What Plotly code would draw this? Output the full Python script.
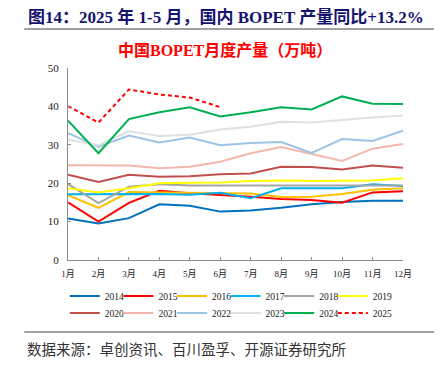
import plotly.graph_objects as go

months = ["1月", "2月", "3月", "4月", "5月", "6月", "7月", "8月", "9月", "10月", "11月", "12月"]

y2014 = [10.8, 9.5, 10.9, 14.5, 14.1, 12.6, 12.9, 13.6, 14.5, 15.1, 15.4, 15.4]
y2015 = [15.0, 10.0, 14.9, 18.0, 17.4, 17.0, 16.5, 15.9, 15.6, 14.9, 17.6, 17.9]
y2016 = [16.9, 13.6, 17.7, 17.6, 17.4, 17.4, 17.3, 16.4, 16.5, 17.2, 18.3, 18.7]
y2017 = [17.1, 17.1, 17.1, 17.2, 17.0, 17.5, 16.1, 18.7, 18.7, 18.7, 19.7, 19.3]
y2018 = [19.8, 14.8, 19.1, 19.7, 19.4, 19.4, 19.4, 19.4, 19.3, 19.4, 19.4, 19.4]
y2019 = [18.7, 17.6, 18.7, 20.0, 20.1, 20.2, 20.6, 20.7, 20.6, 20.6, 20.7, 21.3]
y2020 = [22.2, 20.3, 22.2, 21.7, 21.8, 22.3, 22.5, 24.3, 24.2, 23.6, 24.6, 24.0]
y2021 = [24.7, 24.6, 24.6, 23.9, 24.3, 25.6, 27.8, 29.4, 27.5, 25.8, 29.0, 30.2]
y2022 = [33.0, 29.5, 32.4, 30.6, 31.9, 29.9, 30.5, 30.7, 27.9, 31.5, 31.0, 33.7]
y2023 = [31.3, 29.9, 33.5, 32.3, 32.6, 34.0, 34.7, 36.0, 35.8, 36.5, 37.1, 37.6]
y2024 = [36.3, 27.8, 36.7, 38.5, 39.8, 37.4, 38.5, 39.8, 39.2, 42.6, 40.7, 40.6]
y2025 = [40.1, 35.8, 44.4, 43.1, 42.3, 39.8]

series = [
    ("2014", y2014, "#0070C0", "solid"),
    ("2015", y2015, "#FF0000", "solid"),
    ("2016", y2016, "#FFC000", "solid"),
    ("2017", y2017, "#00B0F0", "solid"),
    ("2018", y2018, "#A5A5A5", "solid"),
    ("2019", y2019, "#FFFF00", "solid"),
    ("2020", y2020, "#C0504D", "solid"),
    ("2021", y2021, "#F2B8AC", "solid"),
    ("2022", y2022, "#9DC3E6", "solid"),
    ("2023", y2023, "#E0E0E0", "solid"),
    ("2024", y2024, "#00B050", "solid"),
    ("2025", y2025, "#FF0000", "4px,3px"),
]

yticks = [0, 10, 20, 30, 40, 50]

SERIF = "Liberation Serif, Noto Sans CJK SC, serif"

# plot area in reference pixels
PL, PW, PB, PH = 67.7, 335.0, 260.0, 192.0

fig = go.Figure()
legend_layouts = {}
for i, (name, vals, color, dash) in enumerate(series):
    lid = "legend" if i == 0 else f"legend{i + 1}"
    fig.add_trace(go.Scatter(
        x=months[:len(vals)], y=vals, name=name, mode="lines",
        line=dict(color=color, width=2, dash=dash),
        legend=lid,
    ))
    col, row = i % 6, i // 6
    origin_px = 72 + 53.6 * col - 7.5
    center_px = 296 + 17 * row
    legend_layouts[lid] = dict(
        x=(origin_px - PL) / PW, xanchor="left",
        y=(PB - center_px) / PH, yanchor="middle",
        orientation="h", bgcolor="rgba(0,0,0,0)", borderwidth=0,
        font=dict(family=SERIF, size=9.5, color="#222"),
        itemwidth=30,
    )

# page body has an 8px margin, so the figure is drawn 8px smaller and offset
fig.update_layout(
    width=434, height=370,
    margin=dict(l=59.7, r=39.3, t=60, b=118),
    paper_bgcolor="white", plot_bgcolor="white",
    showlegend=True,
    xaxis=dict(
        type="category", categoryorder="array", categoryarray=months,
        range=[0, 11], showgrid=False, zeroline=False,
        showline=True, linecolor="#8c8c8c", linewidth=1,
        ticks="inside", ticklen=3, tickcolor="#8c8c8c",
        ticklabelstandoff=5,
        tickfont=dict(family=SERIF, size=9, color="#222"),
    ),
    yaxis=dict(
        range=[0, 50], tickvals=yticks, showgrid=False, zeroline=False,
        showline=True, linecolor="#8c8c8c", linewidth=1,
        ticks="inside", ticklen=3, tickcolor="#8c8c8c",
        ticklabelstandoff=6,
        tickfont=dict(family=SERIF, size=11, color="#222"),
    ),
    annotations=[
        dict(text="<b>图14：2025 年 1-5 月，国内 BOPET 产量同比+13.2%</b>",
             xref="paper", yref="paper", x=(26 - PL) / PW, y=(PB - 17) / PH,
             xanchor="left", yanchor="middle", showarrow=False,
             font=dict(family="Liberation Serif, Noto Sans CJK SC", size=17, color="#14146e")),
        dict(text="<b>中国BOPET月度产量（万吨）</b>",
             xref="paper", yref="paper", x=(225 - PL) / PW, y=(PB - 50) / PH,
             xanchor="center", yanchor="middle", showarrow=False,
             font=dict(family="Liberation Serif, Noto Sans CJK SC", size=16, color="#FF0000")),
        dict(text="数据来源：卓创资讯、百川盈孚、开源证券研究所",
             xref="paper", yref="paper", x=(25 - PL) / PW, y=(PB - 348) / PH,
             xanchor="left", yanchor="middle", showarrow=False,
             font=dict(family="Noto Sans CJK SC", size=14.5, color="#333")),
    ],
    shapes=[
        dict(type="line", xref="paper", yref="paper",
             x0=(24 - PL) / PW, x1=(436 - PL) / PW,
             y0=(PB - 29) / PH, y1=(PB - 29) / PH,
             line=dict(color="#808080", width=1.5)),
        dict(type="line", xref="paper", yref="paper",
             x0=(24 - PL) / PW, x1=(436 - PL) / PW,
             y0=(PB - 332) / PH, y1=(PB - 332) / PH,
             line=dict(color="#808080", width=1.5)),
    ],
    **legend_layouts,
)

fig.write_html("out.html")
